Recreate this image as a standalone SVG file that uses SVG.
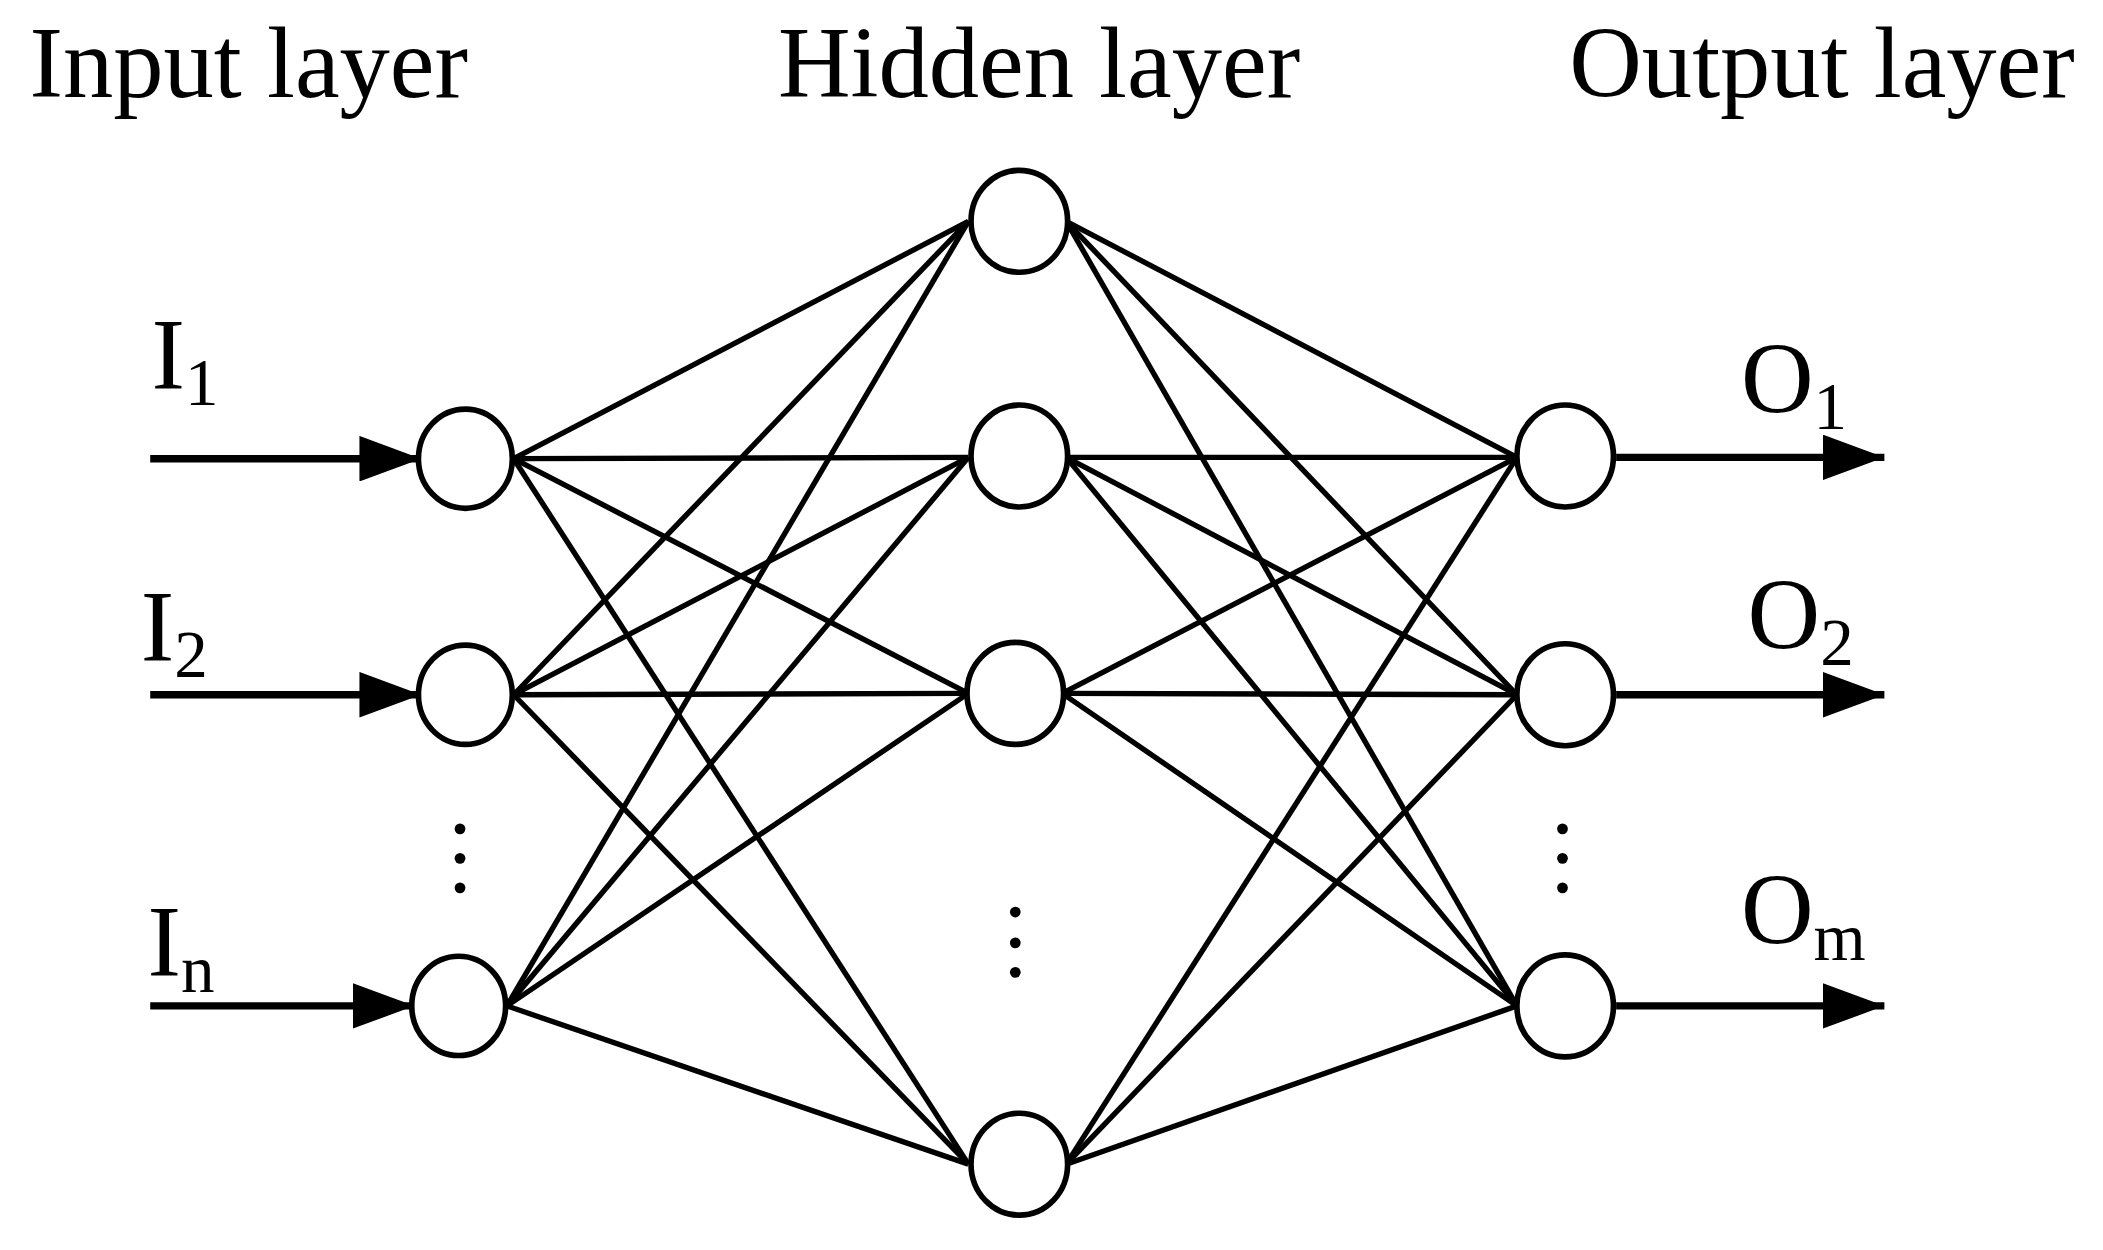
<svg xmlns="http://www.w3.org/2000/svg" width="2103" height="1250" viewBox="0 0 2103 1250">
<style>
.t{font-family:"Liberation Serif","Times New Roman",serif;fill:#000}
.n{fill:#fff;stroke:#000;stroke-width:4.2}
.c line{stroke:#000;stroke-width:4}
.c line.a{stroke-width:5.5;stroke-linecap:butt}
</style>
<defs><marker id="ah" markerWidth="46" markerHeight="34" refX="46" refY="17" orient="auto" markerUnits="userSpaceOnUse" viewBox="0 0 46 34"><path d="M0,0L46,17L0,34z" fill="#000"/></marker></defs>
<rect width="2103" height="1250" fill="#fff"/>
<g transform="scale(1.3412)">
<g id="labels" class="t" font-size="75">
<text x="22" y="72">Input layer</text>
<text x="580" y="72">Hidden layer</text>
<text x="1170" y="72">Output layer</text>
<text x="113" y="290">I<tspan font-size="50" dy="12">1</tspan></text>
<text x="105" y="493">I<tspan font-size="50" dy="12">2</tspan></text>
<text x="110" y="728">I<tspan font-size="50" dy="12">n</tspan></text>
<text x="1298" y="308">O<tspan font-size="50" dy="12">1</tspan></text>
<text x="1303" y="484">O<tspan font-size="50" dy="12">2</tspan></text>
<text x="1298" y="704">O<tspan font-size="50" dy="12">m</tspan></text>
</g>
<g id="connectors" class="c">
<line x1="383" y1="342" x2="722" y2="165"/><line x1="383" y1="342" x2="722" y2="341"/><line x1="383" y1="342" x2="722" y2="517"/><line x1="383" y1="342" x2="722" y2="868"/>
<line x1="383" y1="518" x2="722" y2="165"/><line x1="383" y1="518" x2="722" y2="341"/><line x1="383" y1="518" x2="722" y2="517"/><line x1="383" y1="518" x2="722" y2="868"/>
<line x1="378" y1="750" x2="722" y2="165"/><line x1="378" y1="750" x2="722" y2="341"/><line x1="378" y1="750" x2="722" y2="517"/><line x1="378" y1="750" x2="722" y2="868"/>
<line x1="795" y1="165" x2="1131" y2="341"/><line x1="795" y1="165" x2="1131" y2="518"/><line x1="795" y1="165" x2="1131" y2="750"/>
<line x1="795" y1="341" x2="1131" y2="341"/><line x1="795" y1="341" x2="1131" y2="518"/><line x1="795" y1="341" x2="1131" y2="750"/>
<line x1="792" y1="517" x2="1131" y2="341"/><line x1="792" y1="517" x2="1131" y2="518"/><line x1="792" y1="517" x2="1131" y2="750"/>
<line x1="795" y1="868" x2="1131" y2="341"/><line x1="795" y1="868" x2="1131" y2="518"/><line x1="795" y1="868" x2="1131" y2="750"/>
<line class="a" x1="112" y1="342" x2="314" y2="342" marker-end="url(#ah)"/>
<line class="a" x1="112" y1="518" x2="314" y2="518" marker-end="url(#ah)"/>
<line class="a" x1="112" y1="750" x2="309" y2="750" marker-end="url(#ah)"/>
<line class="a" x1="1205" y1="341" x2="1405" y2="341" marker-end="url(#ah)"/>
<line class="a" x1="1205" y1="518" x2="1405" y2="518" marker-end="url(#ah)"/>
<line class="a" x1="1205" y1="750" x2="1405" y2="750" marker-end="url(#ah)"/>
</g>
<g id="in1"><ellipse class="n" cx="347" cy="342" rx="35" ry="37"/></g>
<g id="in2"><ellipse class="n" cx="347" cy="518" rx="35" ry="37"/></g>
<g id="inn"><ellipse class="n" cx="342" cy="750" rx="35" ry="37"/></g>
<g id="h1"><ellipse class="n" cx="760" cy="165" rx="36" ry="38"/></g>
<g id="h2"><ellipse class="n" cx="760" cy="340" rx="36" ry="38"/></g>
<g id="h3"><ellipse class="n" cx="757" cy="517" rx="36" ry="38"/></g>
<g id="h4"><ellipse class="n" cx="760" cy="868" rx="36" ry="38"/></g>
<g id="o1"><ellipse class="n" cx="1167" cy="340" rx="36" ry="38"/></g>
<g id="o2"><ellipse class="n" cx="1167" cy="518" rx="36" ry="38"/></g>
<g id="om"><ellipse class="n" cx="1167" cy="750" rx="36" ry="38"/></g>
<g id="dots" fill="#000">
<circle cx="343" cy="618" r="4"/><circle cx="343" cy="640" r="4"/><circle cx="343" cy="662" r="4"/>
<circle cx="757" cy="680" r="4"/><circle cx="757" cy="703" r="4"/><circle cx="757" cy="725" r="4"/>
<circle cx="1165" cy="618" r="4"/><circle cx="1165" cy="640" r="4"/><circle cx="1165" cy="662" r="4"/>
</g>
</g>
</svg>
